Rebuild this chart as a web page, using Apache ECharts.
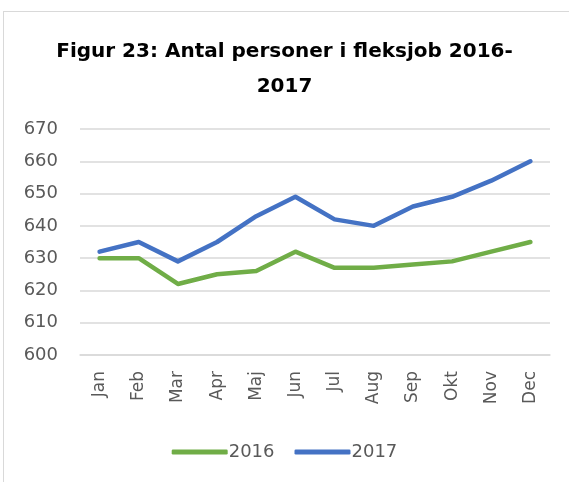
<!DOCTYPE html>
<html>
<head>
<meta charset="utf-8">
<script src="https://cdn.jsdelivr.net/npm/echarts@6/dist/echarts.min.js"></script>
<style>
    html, body { margin: 0; padding: 0; background: #fff; overflow: hidden; }
    #wrap { position: relative; width: 569px; height: 482px; overflow: hidden; }
    #frame { position: absolute; left: 3px; top: 11px; width: 580px; height: 480px;
             border-left: 1.5px solid #d9d9d9; border-top: 1.5px solid #d9d9d9; }
    #chartDiv { position: absolute; left: 0; top: 0; width: 569px; height: 482px; }
</style>
</head>
<body>
<div id="wrap">
    <div id="frame"></div>
    <div id="chartDiv"></div>
</div>
<script>
var months = ['Jan', 'Feb', 'Mar', 'Apr', 'Maj', 'Jun', 'Jul', 'Aug', 'Sep', 'Okt', 'Nov', 'Dec'];
var data2016 = [630, 630, 622, 625, 626, 632, 627, 627, 628, 629, 632, 635];
var data2017 = [632, 635, 629, 635, 643, 649, 642, 640, 646, 649, 654, 660];

var font = '"DejaVu Sans", sans-serif';

var option = {
    title: {
        text: 'Figur 23: Antal personer i fleksjob 2016-\n2017',
        left: 'center',
        top: 29,
        textStyle: {
            fontFamily: font,
            fontSize: 20,
            fontWeight: 'bold',
            color: '#000',
            lineHeight: 35
        }
    },
    legend: {
        bottom: 16,
        left: 'center',
        itemWidth: 56,
        itemHeight: 5,
        itemGap: 20,
        icon: 'roundRect',
        textStyle: { fontFamily: font, fontSize: 18, color: '#595959', padding: [0, 0, 0, -4] },
        data: ['2016', '2017']
    },
    grid: {
        left: 80,
        right: 19,
        top: 129,
        bottom: 127,
        containLabel: false
    },
    xAxis: {
        type: 'category',
        data: months,
        boundaryGap: true,
        axisLine: { show: true, lineStyle: { color: '#d9d9d9', width: 1.5 } },
        axisTick: { show: false },
        axisLabel: {
            rotate: 90,
            margin: 16,
            fontFamily: font,
            fontSize: 17,
            color: '#595959'
        }
    },
    yAxis: {
        type: 'value',
        min: 600,
        max: 670,
        interval: 10,
        axisLine: { show: false },
        axisTick: { show: false },
        splitLine: { lineStyle: { color: '#d9d9d9', width: 1.5 } },
        axisLabel: {
            margin: 22,
            fontFamily: font,
            fontSize: 18,
            color: '#595959'
        }
    },
    series: [
        {
            name: '2016',
            type: 'line',
            data: data2016,
            symbol: 'none',
            itemStyle: { color: '#70ad47' },
            lineStyle: { color: '#70ad47', width: 4.5, cap: 'round', join: 'round' }
        },
        {
            name: '2017',
            type: 'line',
            data: data2017,
            symbol: 'none',
            itemStyle: { color: '#4472c4' },
            lineStyle: { color: '#4472c4', width: 4.5, cap: 'round', join: 'round' }
        }
    ]
};

var chart = echarts.init(document.getElementById('chartDiv'));
chart.setOption(option);
</script>
</body>
</html>
